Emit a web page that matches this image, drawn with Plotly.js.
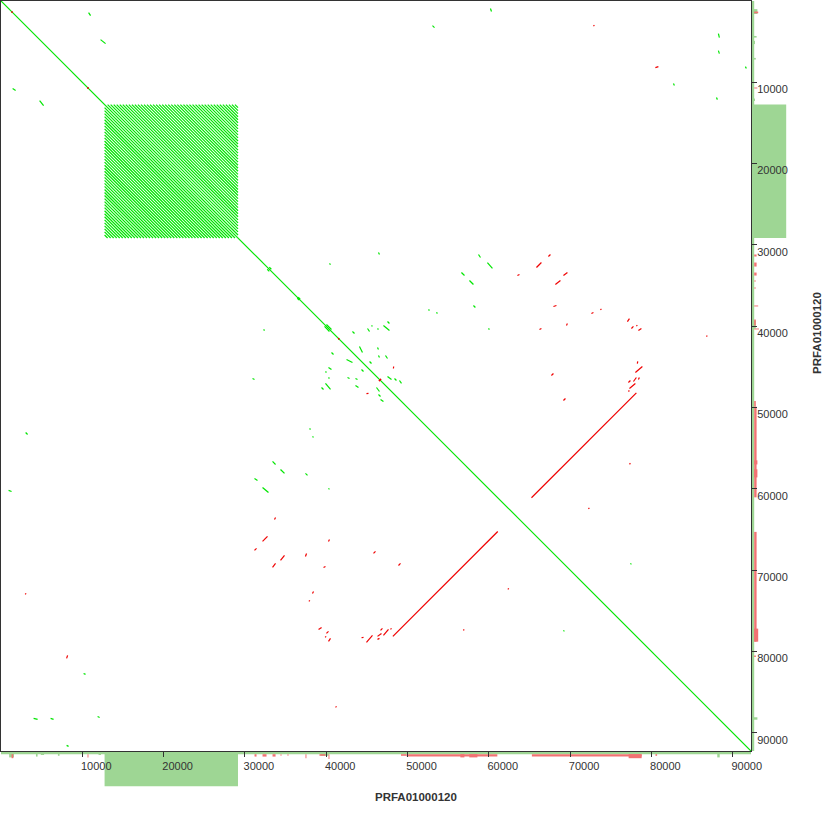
<!DOCTYPE html>
<html><head><meta charset="utf-8">
<script src="https://cdn.plot.ly/plotly-3.0.1.min.js"></script>
<style>html,body{margin:0;padding:0;background:#fff}</style>
</head><body><div id="chart" style="width:830px;height:830px"></div>
<script>
// ---- data (base pairs) ----
const seqName = 'PRFA01000120';
const seqLength = 92250;
const tickValues = [10000, 20000, 30000, 40000, 50000, 60000, 70000, 80000, 90000];
const tickLabels = ['10000', '20000', '30000', '40000', '50000', '60000', '70000', '80000', '90000'];

// tandem repeat: start of each repeat unit (block ends at tandemEnd)
const tandemUnits = [12740, 13112, 13486, 13858, 14231, 14605, 14977, 15350, 15724, 16096, 16469,
  16843, 17215, 17588, 17962, 18334, 18707, 19081, 19453, 19826, 20200, 20572, 20945, 21319,
  21691, 22064, 22438, 22810, 23183, 23557, 23929, 24302, 24676, 25048, 25421, 25795, 26167,
  26540, 26914, 27286, 27659, 28033, 28405, 28778];
const tandemEnd = 29151;

// forward (same strand) hits, upper triangle: [x0, y0, x1, y1]
const forwardHits = [
  [10770, 1430, 11020, 1800], [12250, 4750, 12860, 5240], [53070, 3030, 53320, 3270],
  [60200, 930, 60330, 1300], [88240, 4010, 88360, 4500], [88240, 6100, 88360, 6470],
  [91560, 8070, 91680, 8310], [88000, 11880, 88120, 12130], [82710, 10160, 82830, 10400],
  [58730, 31180, 58980, 31550], [59830, 32170, 60450, 32900], [56630, 33400, 57010, 33770],
  [57620, 34380, 58110, 34870], [58110, 37450, 58350, 37700], [52580, 37950, 52700, 38070],
  [53560, 38310, 53680, 38440], [59950, 40280, 60080, 40400], [46430, 30940, 46550, 31180],
  [40400, 32290, 40530, 32420], [47540, 39420, 47780, 39670], [47040, 39910, 47780, 40530],
  [45570, 39910, 45690, 40030], [43230, 40650, 43480, 40900], [45080, 40280, 45330, 40650],
  [46310, 40280, 46430, 40400], [44090, 42500, 44460, 43230], [46310, 42620, 46430, 42870],
  [46430, 43600, 46550, 43850], [47290, 43600, 47540, 43970], [45330, 44340, 45570, 44590],
  [47540, 46180, 48030, 46550], [48400, 46430, 48640, 46680], [49010, 46680, 49260, 47040],
  [40030, 39790, 40650, 40400], [77420, 69180, 77540, 69300],
  [33000, 32750, 33250, 33000], [36560, 36440, 36800, 36680]
];

// reverse (opposite strand) hits, upper triangle: [x0, y0, x1, y1]
const reverseHits = [
  [67330, 31430, 67580, 31180], [65860, 32780, 66470, 32170], [63520, 33770, 63770, 33640],
  [69180, 33770, 69670, 33400], [68190, 34870, 68810, 34380], [67950, 37580, 68320, 37450],
  [72620, 38440, 72870, 38310], [73730, 37990, 73850, 37870], [66230, 40400, 66470, 40280],
  [78150, 39990, 78270, 39870], [78400, 40530, 78770, 40280], [78270, 44590, 78320, 44340],
  [78030, 45690, 78890, 44950], [77170, 46920, 77420, 46680], [77790, 46800, 78150, 46310],
  [78400, 46550, 78520, 46310], [77300, 47660, 78030, 47040], [77170, 48030, 77290, 47910],
  [65250, 61100, 78150, 48200],
  [1300, 1420, 1420, 1300], [10640, 10760, 10760, 10640], [41480, 41600, 41600, 41480],
  [46490, 46740, 46740, 46490], [48270, 45200, 48300, 44950],
  [80490, 8190, 80860, 8070], [72870, 3090, 72990, 2970],
  [86760, 41270, 86880, 41150], [72250, 62460, 72370, 62340],
  [67700, 46060, 67950, 45820], [69180, 49140, 69430, 48890], [69550, 39910, 69670, 39670],
  [77050, 39430, 77300, 39060], [77540, 40280, 77790, 40030], [77300, 56980, 77420, 56860]
];

// coverage along the sequence (margin histograms)
const fwdCovStart = [0, 12740, 1000, 4300, 4900, 7000, 12000, 39300, 88100];
const fwdCovEnd   = [92250, 29150, 1600, 4500, 5300, 7200, 12300, 40300, 88400];
const fwdCovDepth = [4, 44, 8, 7, 5, 6, 5, 6, 8];
const revCovStart = [1300, 10640, 31180, 32170, 33400, 34380, 35240, 37450, 39170, 40280, 49200, 49900, 56500, 57600, 65300, 77200, 80500];
const revCovEnd   = [1510, 10760, 31430, 32660, 33770, 34500, 35360, 37570, 39910, 40400, 49900, 61050, 57000, 58600, 78800, 78800, 80700];
const revCovDepth = [5, 4, 3, 3, 3, 2, 2, 5, 2, 6, 2, 3, 4, 4, 3, 5, 2];

// ---- drawing ----
const GREEN = '#00e600', RED = '#f00000';
const COV_GREEN = '#9ed694', COV_RED = '#f27272';
const PLOT_PX = 750, DEPTH_PX = 0.8, BASE_DEPTH = 4;

function addSeg(arr, s, mirror) {
  arr.x.push(s[0], s[2], null); arr.y.push(s[1], s[3], null);
  if (mirror) { arr.x.push(s[1], s[3], null); arr.y.push(s[0], s[2], null); }
}
const fwd = {x: [], y: []};
addSeg(fwd, [0, 0, seqLength, seqLength], false);
const s0 = tandemUnits[0];
for (let k = 1; k < tandemUnits.length; k++) {
  const d = tandemUnits[k] - s0;
  addSeg(fwd, [s0 + d, s0, tandemEnd, tandemEnd - d], true);
}
forwardHits.forEach(s => addSeg(fwd, s, true));
const rev = {x: [], y: []};
reverseHits.forEach(s => addSeg(rev, s, true));

const traces = [
  {type: 'scatter', mode: 'lines', x: fwd.x, y: fwd.y, line: {color: GREEN, width: 1.2}, hoverinfo: 'skip', connectgaps: false},
  {type: 'scatter', mode: 'lines', x: rev.x, y: rev.y, line: {color: RED, width: 1.2}, hoverinfo: 'skip', connectgaps: false}
];

const shapes = [];
function covShapes(starts, ends, depths, offset, color) {
  for (let i = 0; i < starts.length; i++) {
    const a = offset * DEPTH_PX / PLOT_PX, b = (offset + depths[i]) * DEPTH_PX / PLOT_PX;
    shapes.push({type: 'rect', layer: 'below', xref: 'x', yref: 'paper', x0: starts[i], x1: ends[i],
      y0: -a, y1: -b, fillcolor: color, line: {width: 0}});
    shapes.push({type: 'rect', layer: 'below', xref: 'paper', yref: 'y', y0: starts[i], y1: ends[i],
      x0: 1 + a, x1: 1 + b, fillcolor: color, line: {width: 0}});
  }
}
covShapes(fwdCovStart, fwdCovEnd, fwdCovDepth, 0, COV_GREEN);
covShapes(revCovStart, revCovEnd, revCovDepth, BASE_DEPTH, COV_RED);

const tickFont = {family: 'Liberation Sans, Arial, sans-serif', size: 11, color: '#333333'};
const axisCommon = {
  showgrid: false, zeroline: false, showline: true, mirror: true, linecolor: '#333', linewidth: 1,
  ticks: 'outside', ticklen: 5, tickwidth: 1, tickcolor: '#333',
  tickvals: tickValues, ticktext: tickLabels, tickfont: tickFont, fixedrange: true
};

const layout = {
  width: 830, height: 830,
  margin: {l: 1, t: 1, r: 79, b: 79, pad: 0},
  font: {family: 'Liberation Sans, Arial, sans-serif', color: '#333333'},
  paper_bgcolor: '#fff', plot_bgcolor: '#fff', showlegend: false,
  xaxis: Object.assign({}, axisCommon, {range: [0, seqLength], ticklabelshift: 14, ticklabelstandoff: 0}),
  yaxis: Object.assign({}, axisCommon, {range: [seqLength, 0], side: 'right', ticklabelshift: -7, ticklabelstandoff: -2}),
  shapes: shapes,
  annotations: [
    {text: '<b>' + seqName + '</b>', xref: 'paper', yref: 'paper', x: 415 / 750, y: -46 / 750,
      xanchor: 'center', yanchor: 'middle', showarrow: false,
      font: {family: 'Liberation Sans, Arial, sans-serif', size: 11.5, color: '#333333'}},
    {text: '<b>' + seqName + '</b>', xref: 'paper', yref: 'paper', x: 1 + 66 / 750, y: 1 - 332 / 750,
      xanchor: 'center', yanchor: 'middle', showarrow: false, textangle: -90,
      font: {family: 'Liberation Sans, Arial, sans-serif', size: 11.5, color: '#333333'}}
  ]
};

Plotly.newPlot('chart', traces, layout, {staticPlot: true, displayModeBar: false});
</script>
</body></html>
